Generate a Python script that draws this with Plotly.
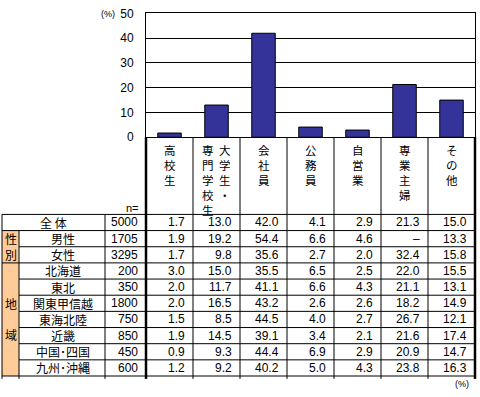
import plotly.graph_objects as go

W, H = 480, 397

# ---------------- data ----------------
categories = ["高校生", "大学生・専門学校生", "会社員", "公務員", "自営業", "専業主婦", "その他"]
header_columns = [["高校生"], ["大学生・", "専門学校生"], ["会社員"], ["公務員"],
                  ["自営業"], ["専業主婦"], ["その他"]]
row_labels = ["全 体", "男性", "女性", "北海道", "東北", "関東甲信越", "東海北陸",
              "近畿", "中国･四国", "九州･沖縄"]
group_labels = [("性別", 1, 2), ("地域", 3, 9)]
n_values = [5000, 1705, 3295, 200, 350, 1800, 750, 850, 450, 600]

koukousei = [1.7, 1.9, 1.7, 3.0, 2.0, 2.0, 1.5, 1.9, 0.9, 1.2]
daigaku = [13.0, 19.2, 9.8, 15.0, 11.7, 16.5, 8.5, 14.5, 9.3, 9.2]
kaishain = [42.0, 54.4, 35.6, 35.5, 41.1, 43.2, 44.5, 39.1, 44.4, 40.2]
koumuin = [4.1, 6.6, 2.7, 6.5, 6.6, 2.6, 4.0, 3.4, 6.9, 5.0]
jieigyou = [2.9, 4.6, 2.0, 2.5, 4.3, 2.6, 2.7, 2.1, 2.9, 4.3]
sengyou = [21.3, None, 32.4, 22.0, 21.1, 18.2, 26.7, 21.6, 20.9, 23.8]
sonota = [15.0, 13.3, 15.8, 15.5, 13.1, 14.9, 12.1, 17.4, 14.7, 16.3]
series = [koukousei, daigaku, kaishain, koumuin, jieigyou, sengyou, sonota]

y_ticks = [0, 10, 20, 30, 40, 50]

# ---------------- layout helpers ----------------
def X(p):
    return p / W

def Y(p):
    return 1 - p / H

FONT_NUM = "Liberation Sans"
FONT_JP = "Noto Sans CJK JP"
BAR_COLOR = "#333399"
ORANGE = "#FFCC99"

plot_left, plot_right = 146, 475
plot_top, plot_bottom = 6.7, 135
col_w = (plot_right - plot_left) / len(categories)
col_edges = [plot_left + i * col_w for i in range(len(categories) + 1)]
table_left, side_right, label_right = 2, 19, 105
table_top = 215
row_h = 16.75
table_bottom = table_top + row_h * len(row_labels)

fig = go.Figure()
fig.add_trace(go.Bar(
    x=categories,
    y=[s[0] for s in series],
    marker=dict(color=BAR_COLOR, line=dict(color="black", width=1)),
    showlegend=False,
    hoverinfo="skip",
))

shapes = []
annotations = []

def line(x0, y0, x1, y1, w=1):
    shapes.append(dict(type="line", xref="paper", yref="paper",
                       x0=X(x0), y0=Y(y0), x1=X(x1), y1=Y(y1),
                       line=dict(color="black", width=w)))

def text(x, y, s, anchor="center", size=12, font=FONT_JP, yanchor="middle"):
    annotations.append(dict(xref="paper", yref="paper", x=X(x), y=Y(y), text=s,
                            showarrow=False, xanchor=anchor, yanchor=yanchor,
                            borderpad=0,
                            font=dict(family=font, size=size, color="black")))

# orange side cells
for label, r0, r1 in group_labels:
    shapes.append(dict(type="rect", xref="paper", yref="paper", layer="below",
                       x0=X(table_left), x1=X(side_right),
                       y0=Y(table_top + r0 * row_h), y1=Y(table_top + (r1 + 1) * row_h),
                       fillcolor=ORANGE, line=dict(width=0)))

# horizontal lines
line(table_left, table_top, plot_right, table_top)
for i in range(1, len(row_labels) + 1):
    y = table_top + i * row_h
    inner = any(r0 < i <= r1 for _, r0, r1 in group_labels)
    line(side_right if inner else table_left, y, plot_right, y)

# vertical lines
ext = 3
line(table_left, table_top, table_left, table_bottom + ext)
line(side_right, table_top + row_h, side_right, table_bottom + ext)
line(label_right, table_top, label_right, table_bottom + ext)
for i, xe in enumerate(col_edges):
    thick = i in (0, len(col_edges) - 1)
    line(xe, plot_bottom, xe, table_bottom + ext, 2.5 if thick else 1)

# header vertical texts
for i, cols in enumerate(header_columns):
    cx = (col_edges[i] + col_edges[i + 1]) / 2
    offsets = [0] if len(cols) == 1 else [8.5, -8.5]
    for off, word in zip(offsets, cols):
        text(cx + off, 139, "<br>".join(word), size=11.5, yanchor="top")

text(label_right + 27, 208.5, "n=", size=11, font=FONT_NUM)

# row labels, n and values
for r, lab in enumerate(row_labels):
    yc = table_top + (r + 0.5) * row_h
    if r == 0:
        text((table_left + label_right) / 2, yc, lab, size=12)
    else:
        text((side_right + label_right) / 2 + 1, yc, lab, size=12)
    text(plot_left - 7, yc, str(n_values[r]), anchor="right", font=FONT_NUM)
    for c, s in enumerate(series):
        v = s[r]
        txt = "–" if v is None else f"{v:.1f}"
        text(col_edges[c + 1] - 7, yc, txt, anchor="right", font=FONT_NUM)

# group labels in side column
for label, r0, r1 in group_labels:
    ymid = table_top + (r0 + r1 + 1) / 2 * row_h
    sep = "<br>" if r1 - r0 < 3 else "<br><br>"
    text((table_left + side_right) / 2 + 0.5, ymid, sep.join(label), size=12)

text(108, 7, "(%)", size=9, font=FONT_NUM)
text(462, 391, "(%)", size=9, font=FONT_NUM)

fig.update_layout(
    width=W, height=H,
    margin=dict(l=0, r=0, t=0, b=0),
    paper_bgcolor="white", plot_bgcolor="white",
    bargap=0.5,
    shapes=shapes,
    annotations=annotations,
    xaxis=dict(domain=[X(plot_left), X(plot_right)], showticklabels=False,
               showline=True, linecolor="black", linewidth=1, mirror=True,
               showgrid=False, ticks=""),
    yaxis=dict(domain=[Y(plot_bottom), Y(plot_top)], range=[0, 50],
               tickvals=y_ticks, showline=True, linecolor="black", linewidth=1,
               mirror=True, showgrid=True, gridcolor="black", gridwidth=1,
               zeroline=False, ticks="", ticklabelstandoff=9,
               ticklabeloverflow="allow",
               tickfont=dict(family=FONT_NUM, size=12, color="black")),
)

fig.write_html("out.html", config={"displayModeBar": False},
               post_script="document.body.style.margin='0';")
